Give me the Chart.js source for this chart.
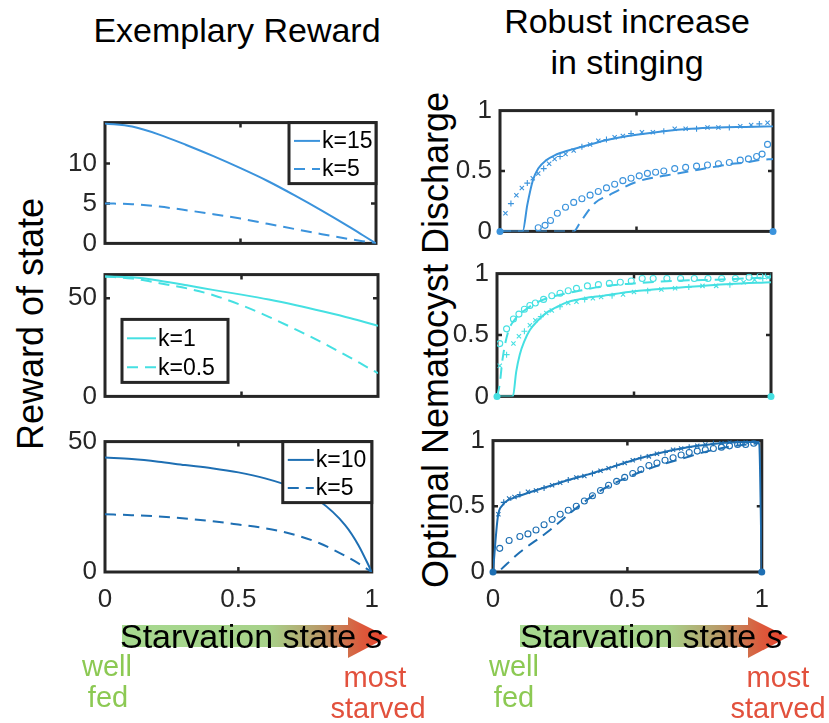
<!DOCTYPE html>
<html>
<head>
<meta charset="utf-8">
<script src="https://cdn.jsdelivr.net/npm/chart.js@4.4.0/dist/chart.umd.min.js"></script>
<style>
  body { margin: 0; background: #fff; }
  #page { position: relative; width: 829px; height: 723px; overflow: hidden;
          font-family: "Liberation Sans", Arial, sans-serif; color: #000; }
  canvas { position: absolute; }
  .txt { position: absolute; white-space: nowrap; line-height: 1; }
  .ctr { transform: translateX(-50%); }
  .rot { transform: translate(-50%, -50%) rotate(-90deg); font-size: 36px; }
  .fed { color: #8cc953; font-size: 29px; line-height: 29px; }
  .starved { color: #e2513d; font-size: 29px; line-height: 29px; }
  .arrowtxt { font-size: 34px; line-height: 34px; }
  svg { position: absolute; left: 0; top: 0; }
</style>
</head>
<body>
<div id="page">
  <svg width="829" height="723">
    <defs>
      <linearGradient id="gL" gradientUnits="userSpaceOnUse" x1="122" y1="0" x2="388" y2="0">
        <stop offset="0" stop-color="#a6d98f"/>
        <stop offset="0.55" stop-color="#a7d28a"/>
        <stop offset="0.74" stop-color="#b89c69"/>
        <stop offset="0.9" stop-color="#dc5a3c"/>
        <stop offset="1" stop-color="#e9402b"/>
      </linearGradient>
      <linearGradient id="gR" gradientUnits="userSpaceOnUse" x1="520" y1="0" x2="788" y2="0">
        <stop offset="0" stop-color="#a6d98f"/>
        <stop offset="0.55" stop-color="#a7d28a"/>
        <stop offset="0.74" stop-color="#b89c69"/>
        <stop offset="0.9" stop-color="#dc5a3c"/>
        <stop offset="1" stop-color="#e9402b"/>
      </linearGradient>
    </defs>
    <rect x="122" y="625" width="226" height="22" fill="url(#gL)"/>
    <polygon points="348,617 388,637 348,658" fill="url(#gL)"/>
    <rect x="520" y="625" width="228" height="22" fill="url(#gR)"/>
    <polygon points="748,617 788,637 748,658" fill="url(#gR)"/>
  </svg>

  <div class="txt ctr" style="left:237px; top:13px; font-size:34px;">Exemplary Reward</div>
  <div class="txt ctr" style="left:627px; top:4px; font-size:34px;">Robust increase</div>
  <div class="txt ctr" style="left:627px; top:45px; font-size:34px;">in stinging</div>

  <div class="txt rot" style="left:31px; top:324px;">Reward of state</div>
  <div class="txt rot" style="left:436px; top:340px;">Optimal Nematocyst Discharge</div>

  <canvas id="l1"></canvas>
  <canvas id="l2"></canvas>
  <canvas id="l3"></canvas>
  <canvas id="r1"></canvas>
  <canvas id="r2"></canvas>
  <canvas id="r3"></canvas>

  <div class="txt arrowtxt" style="left:120px; top:619px;">Starvation state <i>s</i></div>
  <div class="txt arrowtxt" style="left:520px; top:619px;">Starvation state <i>s</i></div>

  <div class="txt ctr fed" style="left:107px; top:652px;">well</div>
  <div class="txt ctr fed" style="left:108px; top:683px;">fed</div>
  <div class="txt ctr starved" style="left:375px; top:663px;">most</div>
  <div class="txt ctr starved" style="left:378px; top:694px;">starved</div>

  <div class="txt ctr fed" style="left:514px; top:652px;">well</div>
  <div class="txt ctr fed" style="left:514px; top:683px;">fed</div>
  <div class="txt ctr starved" style="left:778px; top:663px;">most</div>
  <div class="txt ctr starved" style="left:778px; top:694px;">starved</div>
</div>

<script>
// ---- data ----
// left column: reward of state on a fixed grid of starvation states
const sGrid = [0, 0.1, 0.2, 0.3, 0.4, 0.5, 0.6, 0.7, 0.8, 0.9, 0.95, 1];
const rewardK15 = [15, 14.6, 13.6, 12.3, 10.9, 9.4, 7.8, 6.0, 4.1, 2.1, 1.05, 0];
const rewardK5a = [5, 4.9, 4.6, 4.15, 3.65, 3.1, 2.45, 1.8, 1.15, 0.55, 0.28, 0];
const rewardK1 = [61, 60.6, 58.9, 56.6, 54.1, 51.8, 49.3, 46.4, 43.2, 39.8, 37.9, 35.9];
const rewardK05 = [61, 60.0, 57.6, 55.0, 51.4, 46.4, 40.5, 34.0, 27.1, 19.6, 15.7, 11.8];
const rewardK10 = [43.9, 43.3, 42.3, 41.0, 39.8, 38.2, 35.9, 32.6, 27.5, 18.0, 10.3, 0];
const rewardK5b = [22.1, 21.8, 21.3, 20.5, 19.5, 18.2, 16.8, 14.6, 11.2, 6.2, 3.3, 0];

// right column, panel 1 (k=15 solid + x markers, k=5 dashed + o markers)
const r1LineS = [0, 0.083, 0.1, 0.12, 0.14, 0.17, 0.2, 0.25, 0.3, 0.4, 0.5, 0.6, 0.7, 0.8, 0.9, 1];
const r1LineY = [0, 0, 0.22, 0.42, 0.52, 0.59, 0.63, 0.67, 0.7, 0.76, 0.8, 0.83, 0.85, 0.86, 0.865, 0.87];
const r1CrossS = [0.02, 0.04, 0.06, 0.08, 0.1, 0.12, 0.14, 0.16, 0.18, 0.2, 0.22, 0.24, 0.27, 0.3, 0.33, 0.36, 0.39, 0.42, 0.45, 0.48, 0.52, 0.56, 0.6, 0.64, 0.68, 0.72, 0.76, 0.8, 0.84, 0.88, 0.92, 0.95, 0.98];
const r1CrossY = [0.15, 0.23, 0.3, 0.36, 0.4, 0.44, 0.48, 0.52, 0.56, 0.6, 0.62, 0.64, 0.67, 0.7, 0.72, 0.75, 0.76, 0.78, 0.79, 0.81, 0.82, 0.82, 0.83, 0.85, 0.85, 0.85, 0.86, 0.86, 0.86, 0.87, 0.88, 0.89, 0.9];
const r1DashS = [0, 0.27, 0.29, 0.32, 0.35, 0.4, 0.45, 0.5, 0.55, 0.6, 0.65, 0.7, 0.75, 0.8, 0.85, 0.9, 0.95, 1];
const r1DashY = [0, 0, 0.06, 0.16, 0.24, 0.3, 0.36, 0.41, 0.44, 0.46, 0.48, 0.5, 0.52, 0.54, 0.56, 0.57, 0.59, 0.6];
const r1CircS = [0.14, 0.165, 0.185, 0.21, 0.24, 0.27, 0.3, 0.33, 0.36, 0.39, 0.42, 0.45, 0.48, 0.51, 0.54, 0.57, 0.6, 0.64, 0.68, 0.72, 0.76, 0.8, 0.84, 0.88, 0.91, 0.94, 0.96, 0.98];
const r1CircY = [0.03, 0.05, 0.09, 0.15, 0.2, 0.24, 0.27, 0.3, 0.33, 0.36, 0.39, 0.42, 0.44, 0.46, 0.48, 0.49, 0.5, 0.52, 0.53, 0.54, 0.55, 0.56, 0.57, 0.59, 0.6, 0.62, 0.64, 0.72];

// right column, panel 2 (k=1 solid + x markers, k=0.5 dashed + o markers)
const r2LineS = [0, 0.058, 0.07, 0.083, 0.1, 0.12, 0.15, 0.18, 0.22, 0.26, 0.32, 0.39, 0.48, 0.57, 0.66, 0.75, 0.85, 1];
const r2LineY = [0, 0, 0.2, 0.34, 0.45, 0.54, 0.62, 0.68, 0.73, 0.77, 0.8, 0.82, 0.85, 0.87, 0.885, 0.9, 0.915, 0.93];
const r2CrossS = [0.01, 0.035, 0.06, 0.08, 0.1, 0.12, 0.14, 0.16, 0.18, 0.2, 0.23, 0.26, 0.29, 0.32, 0.35, 0.38, 0.42, 0.46, 0.5, 0.55, 0.6, 0.65, 0.7, 0.75, 0.8, 0.85, 0.9, 0.94, 0.97, 0.99];
const r2CrossY = [0.25, 0.34, 0.43, 0.49, 0.53, 0.58, 0.62, 0.65, 0.68, 0.7, 0.73, 0.76, 0.77, 0.79, 0.8, 0.81, 0.82, 0.83, 0.85, 0.86, 0.87, 0.88, 0.89, 0.9, 0.9, 0.91, 0.93, 0.95, 0.96, 0.97];
const r2DashS = [0, 0.01, 0.02, 0.04, 0.07, 0.1, 0.15, 0.2, 0.3, 0.4, 0.5, 0.6, 0.7, 0.8, 0.9, 1];
const r2DashY = [0, 0.1, 0.3, 0.52, 0.64, 0.7, 0.77, 0.81, 0.86, 0.9, 0.92, 0.935, 0.945, 0.95, 0.96, 0.97];
const r2CircS = [0.01, 0.035, 0.06, 0.08, 0.1, 0.12, 0.14, 0.17, 0.2, 0.23, 0.26, 0.29, 0.33, 0.37, 0.41, 0.45, 0.49, 0.53, 0.57, 0.62, 0.67, 0.72, 0.77, 0.82, 0.87, 0.92, 0.96, 0.99];
const r2CircY = [0.43, 0.55, 0.63, 0.67, 0.71, 0.74, 0.76, 0.79, 0.82, 0.84, 0.86, 0.88, 0.9, 0.91, 0.92, 0.93, 0.94, 0.96, 0.96, 0.96, 0.96, 0.96, 0.96, 0.96, 0.96, 0.97, 0.98, 0.99];

// right column, panel 3 (k=10 solid + x markers, k=5 dashed + o markers)
const r3LineS = [0, 0.018, 0.036, 0.06, 0.1, 0.157, 0.22, 0.28, 0.34, 0.4, 0.46, 0.52, 0.58, 0.64, 0.7, 0.76, 0.82, 0.88, 0.94, 0.99, 1];
const r3LineY = [0, 0.42, 0.51, 0.55, 0.58, 0.62, 0.66, 0.7, 0.735, 0.77, 0.81, 0.85, 0.885, 0.915, 0.94, 0.96, 0.975, 0.985, 0.99, 0.99, 0];
const r3CrossS = [0.02, 0.04, 0.06, 0.08, 0.1, 0.13, 0.16, 0.19, 0.22, 0.25, 0.28, 0.31, 0.34, 0.37, 0.4, 0.43, 0.46, 0.49, 0.52, 0.55, 0.58, 0.61, 0.64, 0.67, 0.7, 0.73, 0.76, 0.79, 0.82, 0.85, 0.88, 0.91, 0.94, 0.97];
const r3CrossY = [0.44, 0.53, 0.56, 0.57, 0.59, 0.61, 0.62, 0.64, 0.66, 0.68, 0.7, 0.72, 0.73, 0.75, 0.77, 0.79, 0.81, 0.83, 0.85, 0.87, 0.88, 0.9, 0.91, 0.93, 0.94, 0.95, 0.96, 0.97, 0.98, 0.98, 0.99, 0.99, 0.99, 1];
const r3DashS = [0.03, 0.1, 0.2, 0.3, 0.35, 0.4, 0.5, 0.6, 0.7, 0.8, 0.9, 0.99];
const r3DashY = [0.02, 0.15, 0.3, 0.47, 0.55, 0.62, 0.72, 0.8, 0.86, 0.92, 0.96, 0.98];
const r3CircS = [0.025, 0.06, 0.1, 0.13, 0.16, 0.19, 0.22, 0.25, 0.28, 0.31, 0.34, 0.37, 0.4, 0.43, 0.46, 0.49, 0.52, 0.55, 0.58, 0.61, 0.64, 0.67, 0.7, 0.73, 0.76, 0.79, 0.82, 0.85, 0.88, 0.91, 0.94, 0.97];
const r3CircY = [0.18, 0.24, 0.27, 0.29, 0.32, 0.36, 0.4, 0.44, 0.47, 0.5, 0.54, 0.58, 0.62, 0.66, 0.69, 0.72, 0.75, 0.78, 0.81, 0.83, 0.85, 0.87, 0.89, 0.91, 0.92, 0.93, 0.94, 0.95, 0.96, 0.97, 0.97, 0.98];

// the end points drawn as dots on every right panel
const endS = [0, 1];
const endY = [0, 0];

const sTicks = [0, 0.5, 1];
const yTicksL1 = [0, 5, 10];
const yTicksL2 = [0, 50];
const yTicksL3 = [0, 50];
const yTicksR = [0, 0.5, 1];

// ---- styling ----
const blue1 = '#3b93dc';
const cyan2 = '#45e0e2';
const blue3 = '#1e6fb3';
const axisInk = '#262626';
const FONT = '"Liberation Sans", Arial, sans-serif';

Chart.defaults.font.family = FONT;
Chart.defaults.color = axisInk;

function pts(xs, ys) {
  return xs.map((x, i) => ({ x: x, y: ys[i] }));
}

function lineSet(label, xs, ys, color, dashed) {
  return {
    label: label,
    data: pts(xs, ys),
    showLine: true,
    borderColor: color,
    borderWidth: 2,
    borderDash: dashed ? [11, 7] : [],
    pointRadius: 0,
    cubicInterpolationMode: 'monotone',
    inLegend: true
  };
}

function markerSet(xs, ys, color, style) {
  return {
    label: '',
    data: pts(xs, ys),
    showLine: false,
    pointStyle: style,
    pointRadius: 3,
    pointBorderWidth: 1.1,
    borderColor: color,
    backgroundColor: 'rgba(0,0,0,0)',
    inLegend: false
  };
}

function crossStyle(ctx) {
  return ctx.dataIndex % 3 === 1 ? 'cross' : 'crossRot';
}

function endDots(color) {
  return {
    label: '',
    data: pts(endS, endY),
    showLine: false,
    pointStyle: 'circle',
    pointRadius: 3.5,
    borderWidth: 0,
    backgroundColor: color,
    clip: false,
    inLegend: false
  };
}

// MATLAB-like box: thick frame with small inward tick marks
const boxPlugin = {
  id: 'boxFrame',
  beforeDatasetsDraw(chart) {
    const a = chart.chartArea;
    const ctx = chart.ctx;
    ctx.save();
    ctx.strokeStyle = axisInk;
    ctx.lineWidth = 2.5;
    const xs = chart.scales.x, ys = chart.scales.y;
    xs.ticks.forEach(t => {
      if (t.value <= xs.min || t.value >= xs.max) return;
      const px = xs.getPixelForValue(t.value);
      ctx.beginPath();
      ctx.moveTo(px, a.bottom); ctx.lineTo(px, a.bottom - 5);
      ctx.moveTo(px, a.top); ctx.lineTo(px, a.top + 5);
      ctx.stroke();
    });
    ys.ticks.forEach(t => {
      if (t.value <= ys.min || t.value >= ys.max) return;
      const py = ys.getPixelForValue(t.value);
      ctx.beginPath();
      ctx.moveTo(a.left, py); ctx.lineTo(a.left + 5, py);
      ctx.moveTo(a.right, py); ctx.lineTo(a.right - 5, py);
      ctx.stroke();
    });
    ctx.lineWidth = 3;
    ctx.strokeRect(a.left, a.top, a.right - a.left, a.bottom - a.top);
    ctx.restore();
  }
};

// boxed legend placed inside the axes, like MATLAB
const legendPlugin = {
  id: 'boxLegend',
  afterDatasetsDraw(chart, args, opts) {
    if (!opts || !opts.width) return;
    const items = chart.data.datasets.filter(d => d.inLegend);
    const a = chart.chartArea;
    const ctx = chart.ctx;
    const w = opts.width, h = opts.height;
    const x = opts.corner === 'tr' ? a.right - w : a.left + opts.dx;
    const y = opts.corner === 'tr' ? a.top : a.bottom - opts.dy - h;
    ctx.save();
    ctx.fillStyle = '#fff';
    ctx.fillRect(x, y, w, h);
    ctx.strokeStyle = axisInk;
    ctx.lineWidth = 3;
    ctx.strokeRect(x, y, w, h);
    ctx.font = '23px ' + FONT;
    ctx.textBaseline = 'middle';
    items.forEach((d, i) => {
      const cy = y + h * (i === 0 ? 0.3 : 0.76);
      ctx.strokeStyle = d.borderColor;
      ctx.lineWidth = 2;
      ctx.setLineDash(d.borderDash);
      ctx.beginPath();
      ctx.moveTo(x + 5, cy);
      ctx.lineTo(x + opts.sample, cy);
      ctx.stroke();
      ctx.setLineDash([]);
      ctx.fillStyle = '#000';
      ctx.fillText(d.label, x + opts.sample + 2, cy + 1);
    });
    ctx.restore();
  }
};

function tickText(v) {
  return String(v);
}

function makePanel(id, box, yMax, yTicks, datasets, legend, showX) {
  const padL = 70, padR = 12, padT = 16;
  const axisH = showX ? 45 : 0;
  const padB = showX ? 0 : 16;
  const cv = document.getElementById(id);
  cv.width = box.r - box.l + padL + padR;
  cv.height = box.b - box.t + padT + axisH + padB;
  cv.style.left = (box.l - padL) + 'px';
  cv.style.top = (box.t - padT) + 'px';

  new Chart(cv, {
    type: 'scatter',
    data: { datasets: datasets },
    options: {
      responsive: false,
      animation: false,
      events: [],
      layout: { padding: { left: 0, right: padR, top: padT, bottom: padB } },
      plugins: {
        legend: { display: false },
        tooltip: { enabled: false },
        boxLegend: legend
      },
      scales: {
        x: {
          type: 'linear', min: 0, max: 1,
          grid: { display: false, drawTicks: false },
          border: { display: false },
          ticks: { display: showX, padding: 12, font: { size: 26 }, color: axisInk, callback: tickText },
          afterBuildTicks: s => { s.ticks = sTicks.map(v => ({ value: v })); },
          afterFit: s => { s.height = axisH; }
        },
        y: {
          type: 'linear', min: 0, max: yMax,
          grid: { display: false, drawTicks: false },
          border: { display: false },
          ticks: { padding: 8, font: { size: 26 }, color: axisInk, callback: tickText },
          afterBuildTicks: s => { s.ticks = yTicks.map(v => ({ value: v })); },
          afterFit: s => { s.width = padL; }
        }
      }
    },
    plugins: [boxPlugin, legendPlugin]
  });
}

// ---- left column: exemplary reward ----
makePanel('l1', { l: 105, t: 115, r: 376, b: 251 }, 15.1, yTicksL1, [
  lineSet('k=15', sGrid, rewardK15, blue1, false),
  lineSet('k=5', sGrid, rewardK5a, blue1, true)
], { corner: 'tr', width: 87, height: 61, sample: 31 }, false);

makePanel('l2', { l: 105, t: 267, r: 378, b: 404 }, 62, yTicksL2, [
  lineSet('k=1', sGrid, rewardK1, cyan2, false),
  lineSet('k=0.5', sGrid, rewardK05, cyan2, true)
], { corner: 'bl', dx: 17, dy: 14, width: 106, height: 63, sample: 34 }, false);

makePanel('l3', { l: 105, t: 434, r: 379, b: 572 }, 50, yTicksL3, [
  lineSet('k=10', sGrid, rewardK10, blue3, false),
  lineSet('k=5', sGrid, rewardK5b, blue3, true)
], { corner: 'tr', width: 89, height: 61, sample: 31 }, true);

// ---- right column: optimal nematocyst discharge ----
makePanel('r1', { l: 500, t: 103, r: 773, b: 239 }, 1, yTicksR, [
  lineSet('k=15', r1LineS, r1LineY, blue1, false),
  lineSet('k=5', r1DashS, r1DashY, blue1, true),
  Object.assign(markerSet(r1CrossS, r1CrossY, blue1, 'crossRot'), { pointStyle: crossStyle }),
  markerSet(r1CircS, r1CircY, blue1, 'circle'),
  endDots(blue1)
], null, false);

makePanel('r2', { l: 497, t: 266, r: 771, b: 404 }, 1, yTicksR, [
  lineSet('k=1', r2LineS, r2LineY, cyan2, false),
  lineSet('k=0.5', r2DashS, r2DashY, cyan2, true),
  Object.assign(markerSet(r2CrossS, r2CrossY, cyan2, 'crossRot'), { pointStyle: crossStyle }),
  markerSet(r2CircS, r2CircY, cyan2, 'circle'),
  endDots(cyan2)
], null, false);

makePanel('r3', { l: 493, t: 433, r: 769, b: 572 }, 1, yTicksR, [
  lineSet('k=10', r3LineS, r3LineY, blue3, false),
  lineSet('k=5', r3DashS, r3DashY, blue3, true),
  Object.assign(markerSet(r3CrossS, r3CrossY, blue3, 'crossRot'), { pointStyle: crossStyle }),
  markerSet(r3CircS, r3CircY, blue3, 'circle'),
  endDots(blue3)
], null, true);
</script>
</body>
</html>
